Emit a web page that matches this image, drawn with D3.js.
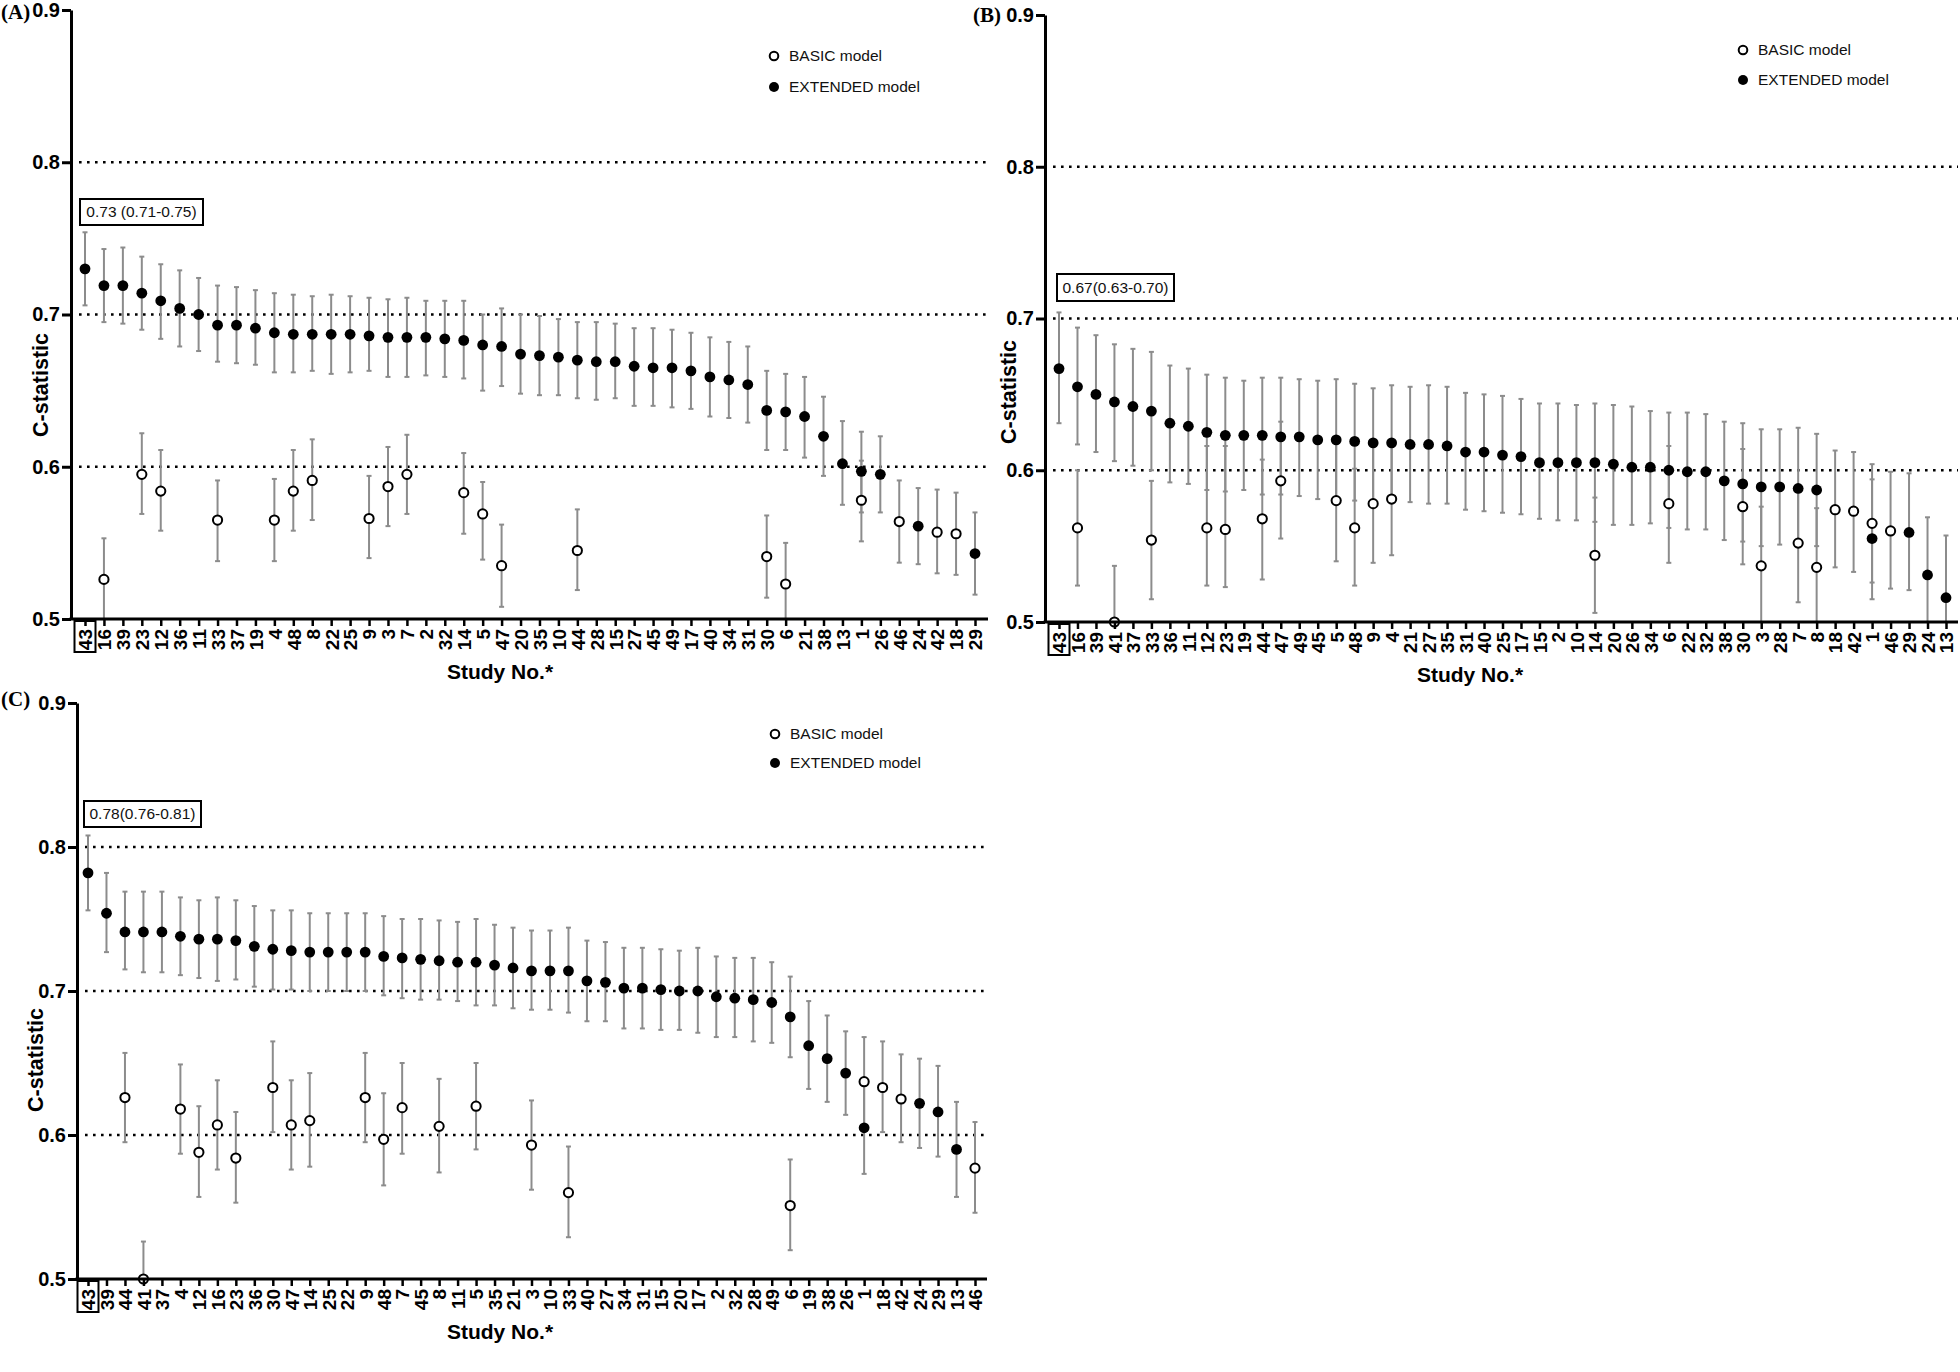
<!DOCTYPE html>
<html><head><meta charset="utf-8">
<script src="https://cdn.jsdelivr.net/npm/d3@7"></script>
<style>
body{margin:0;background:#fff;}
svg{display:block;font-family:"Liberation Sans",Arial,sans-serif;}
</style></head><body>
<svg id="chart" width="1960" height="1372"></svg>
<script>
// ---------- shared labels ----------
const yTicks = [0.5, 0.6, 0.7, 0.8, 0.9];
const gridValues = [0.6, 0.7, 0.8];
const legendLabels = ["BASIC model", "EXTENDED model"];
const xTitle = "Study No.*";
const yTitle = "C-statistic";
const highlightedStudy = "43";
const N = null;

// ---------- panel A ----------
const studiesA = ["43","16","39","23","12","36","11","33","37","19","4","48","8","22","25","9","3","7","2","32","14","5","47","20","35","10","44","28","15","27","45","49","17","40","34","31","30","6","21","38","13","1","26","46","24","42","18","29"];
// [estimate, lower, upper]
const extendedA = [[0.730,0.706,0.754],[0.719,0.695,0.743],[0.719,0.694,0.744],[0.714,0.690,0.738],[0.709,0.684,0.733],[0.704,0.679,0.729],[0.700,0.676,0.724],[0.693,0.669,0.719],[0.693,0.668,0.718],[0.691,0.667,0.716],[0.688,0.662,0.714],[0.687,0.662,0.713],[0.687,0.663,0.712],[0.687,0.661,0.713],[0.687,0.662,0.712],[0.686,0.663,0.711],[0.685,0.659,0.710],[0.685,0.659,0.711],[0.685,0.660,0.709],[0.684,0.659,0.709],[0.683,0.658,0.709],[0.680,0.650,0.700],[0.679,0.653,0.704],[0.674,0.648,0.700],[0.673,0.647,0.699],[0.672,0.647,0.697],[0.670,0.645,0.695],[0.669,0.644,0.695],[0.669,0.645,0.694],[0.666,0.640,0.691],[0.665,0.640,0.691],[0.665,0.639,0.690],[0.663,0.638,0.688],[0.659,0.633,0.685],[0.657,0.632,0.682],[0.654,0.629,0.679],[0.637,0.611,0.663],[0.636,0.611,0.661],[0.633,0.606,0.659],[0.620,0.594,0.646],[0.602,0.575,0.630],[0.597,0.570,0.623],[0.595,0.570,0.620],N,[0.561,0.536,0.586],N,N,[0.543,0.516,0.570]];
const basicA = [N,[0.526,0.500,0.553],N,[0.595,0.569,0.622],[0.584,0.558,0.611],N,N,[0.565,0.538,0.591],N,N,[0.565,0.538,0.592],[0.584,0.558,0.611],[0.591,0.565,0.618],N,N,[0.566,0.540,0.594],[0.587,0.561,0.613],[0.595,0.569,0.621],N,N,[0.583,0.556,0.609],[0.569,0.539,0.590],[0.535,0.508,0.562],N,N,N,[0.545,0.519,0.572],N,N,N,N,N,N,N,N,N,[0.541,0.514,0.568],[0.523,0.500,0.550],N,N,N,[0.578,0.551,0.604],N,[0.564,0.537,0.591],N,[0.557,0.530,0.585],[0.556,0.529,0.583],N];
const noteA = "0.73 (0.71-0.75)";

// ---------- panel B ----------
const studiesB = ["43","16","39","41","37","33","36","11","12","23","19","44","47","49","45","5","48","9","4","21","27","35","31","40","25","17","15","2","10","14","20","26","34","6","22","32","38","30","3","28","7","8","18","42","1","46","29","24","13"];
const extendedB = [[0.667,0.631,0.704],[0.655,0.617,0.694],[0.650,0.612,0.689],[0.645,0.606,0.683],[0.642,0.603,0.680],[0.639,0.600,0.678],[0.631,0.592,0.669],[0.629,0.591,0.667],[0.625,0.587,0.663],[0.623,0.586,0.661],[0.623,0.587,0.659],[0.623,0.584,0.661],[0.622,0.584,0.661],[0.622,0.583,0.660],[0.620,0.581,0.659],[0.620,0.582,0.660],[0.619,0.580,0.657],[0.618,0.579,0.654],[0.618,0.580,0.656],[0.617,0.579,0.655],[0.617,0.578,0.656],[0.616,0.578,0.655],[0.612,0.574,0.651],[0.612,0.573,0.650],[0.610,0.572,0.649],[0.609,0.571,0.647],[0.605,0.568,0.644],[0.605,0.567,0.644],[0.605,0.567,0.643],[0.605,0.566,0.644],[0.604,0.564,0.643],[0.602,0.564,0.642],[0.602,0.565,0.639],[0.600,0.562,0.638],[0.599,0.561,0.638],[0.599,0.561,0.637],[0.593,0.554,0.632],[0.591,0.553,0.631],[0.589,0.550,0.627],[0.589,0.551,0.627],[0.588,0.550,0.628],[0.587,0.550,0.624],N,N,[0.555,0.515,0.594],N,[0.559,0.521,0.598],[0.531,0.500,0.569],[0.516,0.500,0.557]];
const basicB = [N,[0.562,0.524,0.600],N,[0.500,0.500,0.537],N,[0.554,0.515,0.593],N,N,[0.562,0.524,0.616],[0.561,0.523,0.616],N,[0.568,0.528,0.607],[0.593,0.555,0.632],N,N,[0.580,0.540,0.620],[0.562,0.524,0.601],[0.578,0.539,0.617],[0.581,0.544,0.620],N,N,N,N,N,N,N,N,N,N,[0.544,0.506,0.582],N,N,N,[0.578,0.539,0.616],N,N,N,[0.576,0.538,0.614],[0.537,0.500,0.576],N,[0.552,0.513,0.590],[0.536,0.500,0.575],[0.574,0.536,0.613],[0.573,0.533,0.612],[0.565,0.526,0.604],[0.560,0.522,0.599],N,N,N];
const noteB = "0.67(0.63-0.70)";

// ---------- panel C ----------
const studiesC = ["43","39","44","41","37","4","12","16","23","36","30","47","14","25","22","9","48","7","45","8","11","5","35","21","3","10","33","40","27","34","31","15","20","17","2","32","28","49","6","19","38","26","1","18","42","24","29","13","46"];
const extendedC = [[0.782,0.756,0.808],[0.754,0.727,0.782],[0.741,0.715,0.769],[0.741,0.713,0.769],[0.741,0.713,0.769],[0.738,0.711,0.765],[0.736,0.709,0.763],[0.736,0.707,0.765],[0.735,0.708,0.763],[0.731,0.703,0.759],[0.729,0.701,0.756],[0.728,0.701,0.756],[0.727,0.700,0.754],[0.727,0.700,0.754],[0.727,0.700,0.754],[0.727,0.700,0.754],[0.724,0.697,0.752],[0.723,0.695,0.750],[0.722,0.694,0.750],[0.721,0.694,0.749],[0.720,0.693,0.748],[0.720,0.690,0.750],[0.718,0.690,0.746],[0.716,0.688,0.744],[0.714,0.687,0.742],[0.714,0.687,0.742],[0.714,0.685,0.744],[0.707,0.679,0.735],[0.706,0.679,0.734],[0.702,0.674,0.730],[0.702,0.674,0.730],[0.701,0.673,0.729],[0.700,0.673,0.728],[0.700,0.671,0.730],[0.696,0.668,0.724],[0.695,0.668,0.723],[0.694,0.665,0.723],[0.692,0.664,0.720],[0.682,0.654,0.710],[0.662,0.632,0.693],[0.653,0.623,0.683],[0.643,0.614,0.672],[0.605,0.573,0.636],N,N,[0.622,0.591,0.653],[0.616,0.585,0.648],[0.590,0.557,0.623],N];
const basicC = [N,N,[0.626,0.595,0.657],[0.500,0.500,0.526],N,[0.618,0.587,0.649],[0.588,0.557,0.620],[0.607,0.576,0.638],[0.584,0.553,0.616],N,[0.633,0.602,0.665],[0.607,0.576,0.638],[0.610,0.578,0.643],N,N,[0.626,0.595,0.657],[0.597,0.565,0.629],[0.619,0.587,0.650],N,[0.606,0.574,0.639],N,[0.620,0.590,0.650],N,N,[0.593,0.562,0.624],N,[0.560,0.529,0.592],N,N,N,N,N,N,N,N,N,N,N,[0.551,0.520,0.583],N,N,N,[0.637,0.606,0.668],[0.633,0.602,0.665],[0.625,0.595,0.656],N,N,N,[0.577,0.546,0.609]];
const noteC = "0.78(0.76-0.81)";

// ---------- layout (positions only) ----------
const panels = [
  {label:"(A)", studies:studiesA, ext:extendedA, basic:basicA, note:noteA,
   axisX:71, xFirst:85, xLast:975, xEnd:988, yTop:10, yBottom:619,
   labelPos:[1,19], yTitlePos:[40,385], xTitlePos:[500,679], legend:[774,56,31], noteBox:[80,199,123,26]},
  {label:"(B)", studies:studiesB, ext:extendedB, basic:basicB, note:noteB,
   axisX:1045, xFirst:1059, xLast:1946, xEnd:1958, yTop:15, yBottom:622,
   labelPos:[973,22], yTitlePos:[1008,392], xTitlePos:[1470,682], legend:[1743,50,30], noteBox:[1057,274,117,27]},
  {label:"(C)", studies:studiesC, ext:extendedC, basic:basicC, note:noteC,
   axisX:77, xFirst:88, xLast:975, xEnd:987, yTop:703, yBottom:1279,
   labelPos:[1,706], yTitlePos:[35,1060], xTitlePos:[500,1339], legend:[775,734,29], noteBox:[84,801,117,26]}
];

const svg = d3.select("#chart");
const FONT = '"Liberation Sans", Arial, sans-serif';
const ebColor = "#8c8c8c";

panels.forEach(P => {
  const g = svg.append("g");
  const x = d3.scalePoint().domain(P.studies).range([P.xFirst, P.xLast]);
  const y = d3.scaleLinear().domain([0.5, 0.9]).range([P.yBottom, P.yTop]);

  // dotted reference lines
  g.selectAll("line.grid").data(gridValues).join("line").attr("class","grid")
    .attr("x1", P.axisX + 8).attr("x2", P.xEnd)
    .attr("y1", d => y(d)).attr("y2", d => y(d))
    .attr("stroke", "#000").attr("stroke-width", 2.6)
    .attr("stroke-dasharray", "2.6 5.4");

  // y axis
  const ya = g.append("g").attr("transform", `translate(${P.axisX},0)`)
    .call(d3.axisLeft(y).tickValues(yTicks).tickFormat(d3.format(".1f"))
      .tickSize(9).tickSizeOuter(0).tickPadding(2));
  ya.select(".domain").attr("stroke-width", 3);
  ya.selectAll(".tick line").attr("stroke-width", 3);
  ya.selectAll(".tick text").attr("font-size", 20).attr("font-weight", "bold")
    .attr("font-family", FONT).attr("fill", "#000");

  // points data
  const rows = P.studies.map((s, i) => ({s, e: P.ext[i], b: P.basic[i]}));
  const bars = [];
  rows.forEach(r => {
    if (r.e) bars.push({s: r.s, v: r.e});
    if (r.b) bars.push({s: r.s, v: r.b});
  });

  // error bars
  g.selectAll("line.eb").data(bars).join("line").attr("class","eb")
    .attr("x1", d => x(d.s)).attr("x2", d => x(d.s))
    .attr("y1", d => y(d.v[1])).attr("y2", d => y(d.v[2]))
    .attr("stroke", ebColor).attr("stroke-width", 2);
  const caps = [];
  bars.forEach(d => { caps.push({s: d.s, val: d.v[1]}); caps.push({s: d.s, val: d.v[2]}); });
  g.selectAll("line.cap").data(caps).join("line").attr("class","cap")
    .attr("x1", d => x(d.s) - 2.5).attr("x2", d => x(d.s) + 2.5)
    .attr("y1", d => y(d.val)).attr("y2", d => y(d.val))
    .attr("stroke", ebColor).attr("stroke-width", 2);

  // extended (filled)
  g.selectAll("circle.ext").data(rows.filter(r => r.e)).join("circle").attr("class","ext")
    .attr("cx", d => x(d.s)).attr("cy", d => y(d.e[0])).attr("r", 5.4).attr("fill", "#000");
  // basic (open)
  g.selectAll("circle.bas").data(rows.filter(r => r.b)).join("circle").attr("class","bas")
    .attr("cx", d => x(d.s)).attr("cy", d => y(d.b[0])).attr("r", 4.6)
    .attr("fill", "#fff").attr("stroke", "#000").attr("stroke-width", 2);

  // x axis
  const xa = g.append("g").attr("transform", `translate(0,${P.yBottom})`)
    .call(d3.axisBottom(x).tickSize(7).tickSizeOuter(0));
  xa.select(".domain").remove();
  xa.selectAll(".tick line").attr("stroke-width", 2.5);
  xa.selectAll(".tick text")
    .attr("transform", "rotate(-90)").attr("x", -10).attr("y", 0).attr("dy", "0.36em")
    .attr("text-anchor", "end").attr("font-size", 19).attr("font-weight", "bold")
    .attr("font-family", FONT).attr("fill", "#000");
  g.append("line").attr("x1", P.axisX - 1.5).attr("x2", P.xEnd)
    .attr("y1", P.yBottom).attr("y2", P.yBottom).attr("stroke", "#000").attr("stroke-width", 3);

  // box around highlighted study label
  const hx = x(highlightedStudy);
  g.append("rect").attr("x", hx - 10.5).attr("y", P.yBottom + 2).attr("width", 21).attr("height", 31)
    .attr("fill", "none").attr("stroke", "#000").attr("stroke-width", 2);

  // titles
  g.append("text").attr("transform", `translate(${P.yTitlePos[0]},${P.yTitlePos[1]}) rotate(-90)`)
    .attr("text-anchor", "middle").attr("dy", "0.35em")
    .attr("font-size", 21.5).attr("font-weight", "bold").text(yTitle);
  g.append("text").attr("x", P.xTitlePos[0]).attr("y", P.xTitlePos[1])
    .attr("text-anchor", "middle").attr("font-size", 21).attr("font-weight", "bold").text(xTitle);
  g.append("text").attr("x", P.labelPos[0]).attr("y", P.labelPos[1])
    .attr("font-family", '"Liberation Serif","Times New Roman",serif')
    .attr("font-size", 21).attr("font-weight", "bold").text(P.label);

  // legend
  const [lx, ly, lgap] = P.legend;
  g.append("circle").attr("cx", lx).attr("cy", ly).attr("r", 4.3)
    .attr("fill", "#fff").attr("stroke", "#000").attr("stroke-width", 2);
  g.append("circle").attr("cx", lx).attr("cy", ly + lgap).attr("r", 5).attr("fill", "#000");
  legendLabels.forEach((t, i) => {
    g.append("text").attr("x", lx + 15).attr("y", ly + i * lgap).attr("dy", "0.35em")
      .attr("font-size", 15.5).attr("fill", "#111").text(t);
  });

  // annotation box
  const [bx, by, bw, bh] = P.noteBox;
  g.append("rect").attr("x", bx).attr("y", by).attr("width", bw).attr("height", bh)
    .attr("fill", "#fff").attr("stroke", "#000").attr("stroke-width", 2);
  g.append("text").attr("x", bx + bw / 2).attr("y", by + bh / 2).attr("dy", "0.35em")
    .attr("text-anchor", "middle").attr("font-size", 15.5).attr("fill", "#111").text(P.note);
});
</script>
</body></html>
